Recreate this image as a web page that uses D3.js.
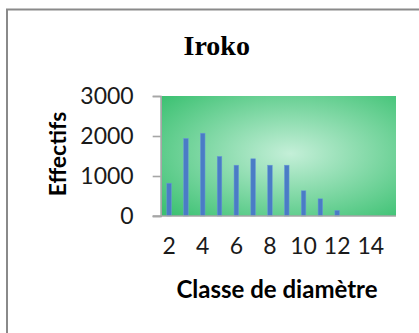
<!DOCTYPE html>
<html><head><meta charset="utf-8">
<script src="https://cdn.jsdelivr.net/npm/d3@7"></script>
<style>html,body{margin:0;padding:0;background:#fff;overflow:hidden}</style>
</head><body>
<script>
const title = "Iroko";
const xTitle = "Classe de diamètre";
const yTitle = "Effectifs";
const categories = [2,3,4,5,6,7,8,9,10,11,12,13,14,15];
const effectifs = [820,1940,2070,1490,1270,1430,1270,1270,630,430,140,0,0,0];
const xTickLabels = [2,4,6,8,10,12,14];
const yTicks = [0,1000,2000,3000];

const W = 419, H = 333;
const plot = {left:160.7, right:396, top:96, bottom:216};
const svg = d3.select("body").append("svg").attr("width",W).attr("height",H);

// chart border (only top/left visible)
svg.append("rect").attr("x",7).attr("y",9.5).attr("width",600).attr("height",600)
  .attr("fill","#fff").attr("stroke","#8a8a8a").attr("stroke-width",2);

const defs = svg.append("defs");
const g = defs.append("radialGradient").attr("id","bg")
  .attr("cx","55%").attr("cy","48%").attr("r","72%");
g.append("stop").attr("offset","0%").attr("stop-color","#c4efd8");
g.append("stop").attr("offset","100%").attr("stop-color","#3cc172");

const x = d3.scaleBand().domain(categories).range([plot.left, plot.right]).padding(0);
const y = d3.scaleLinear().domain([0,3000]).range([plot.bottom, plot.top]);

svg.append("rect").attr("x",plot.left).attr("y",plot.top)
  .attr("width",plot.right-plot.left).attr("height",plot.bottom-plot.top)
  .attr("fill","url(#bg)");

const bw = 4.6;
svg.append("g").selectAll("rect").data(categories.map((c,i)=>({c,v:effectifs[i]})).filter(d=>d.v>0))
  .enter().append("rect")
  .attr("x",d=>x(d.c)+x.bandwidth()/2-bw/2)
  .attr("y",d=>y(d.v))
  .attr("width",bw)
  .attr("height",d=>y(0)-y(d.v))
  .attr("fill","#4a7cc6")
  .attr("stroke","#6b9ad8").attr("stroke-width",0.5);

// y axis
const yAxis = d3.axisLeft(y).tickValues(yTicks).tickSize(8).tickPadding(19).tickFormat(d3.format("d"));
const ya = svg.append("g").attr("transform",`translate(${plot.left},0)`).call(yAxis);
ya.select(".domain").attr("stroke","#a6a6a6").attr("stroke-width",1.6);
ya.selectAll(".tick line").attr("stroke","#a6a6a6").attr("stroke-width",1.6);
ya.selectAll(".tick text").attr("font-family","Lato, sans-serif").attr("font-size",23).attr("fill","#1a1a1a");

// x axis
const xAxis = d3.axisBottom(x).tickValues(xTickLabels).tickSize(0).tickPadding(22);
const xa = svg.append("g").attr("transform",`translate(0,${plot.bottom})`).call(xAxis);
xa.select(".domain").attr("stroke","#a6a6a6").attr("stroke-width",1.6)
  .attr("d",`M${plot.left-8},0H${plot.right}`);
xa.selectAll(".tick text").attr("font-family","Lato, sans-serif").attr("font-size",23).attr("fill","#1a1a1a");

// titles
svg.append("text").attr("x",216.7).attr("y",55).attr("text-anchor","middle")
  .attr("font-family","'Liberation Serif', serif").attr("font-weight","bold").attr("font-size",28)
  .attr("fill","#000").text(title);
svg.append("text").attr("x",277).attr("y",298).attr("text-anchor","middle")
  .attr("font-family","Lato, sans-serif").attr("font-weight","bold").attr("font-size",24)
  .attr("fill","#000").text(xTitle);
svg.append("text").attr("transform","translate(66,154) rotate(-90)").attr("text-anchor","middle")
  .attr("font-family","Lato, sans-serif").attr("font-weight","bold").attr("font-size",23)
  .attr("fill","#000").text(yTitle);
</script>
</body></html>
